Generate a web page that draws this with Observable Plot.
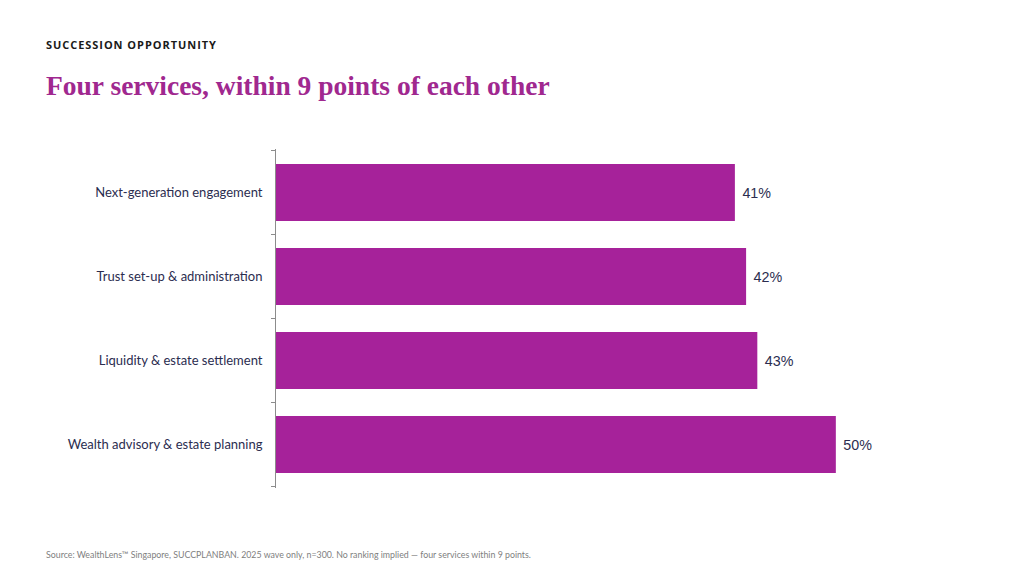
<!DOCTYPE html>
<html>
<head>
<meta charset="utf-8">
<script src="https://cdn.jsdelivr.net/npm/d3@7"></script>
<script src="https://cdn.jsdelivr.net/npm/@observablehq/plot@0.6"></script>
<style>
  html, body { margin: 0; padding: 0; background: #fff; }
  #page { position: relative; width: 1024px; height: 576px; overflow: hidden; }
  #kicker { position: absolute; left: 46px; top: 37px; font: 700 11px "Open Sans", sans-serif; letter-spacing: 0.95px; color: #1a1a1a; }
  #title { position: absolute; left: 46px; top: 70px; font: 700 27.5px "Liberation Serif", serif; color: #a0288f; white-space: nowrap; }
  #chart { position: absolute; left: 0; top: 130px; }
  #caption { position: absolute; left: 46px; top: 549px; font: 400 8.8px "Lato", sans-serif; color: #808080; white-space: nowrap; }
</style>
</head>
<body>
<div id="page">
  <div id="kicker">SUCCESSION OPPORTUNITY</div>
  <div id="title">Four services, within 9 points of each other</div>
  <div id="chart"></div>
  <div id="caption">Source: WealthLens™ Singapore, SUCCPLANBAN. 2025 wave only, n=300. No ranking implied — four services within 9 points.</div>
</div>
<script>
const categories = [
  "Next-generation engagement",
  "Trust set-up & administration",
  "Liquidity & estate settlement",
  "Wealth advisory & estate planning"
];
const values = [41, 42, 43, 50];
const valueLabels = ["41%", "42%", "43%", "50%"];

const data = categories.map((c, i) => ({category: c, value: values[i], label: valueLabels[i]}));

const boundaryTicks = (index, scales, vals, dims) => {
  const y = scales.y;
  const x0 = scales.x(0);
  const step = y.step ? y.step() : (dims.height - dims.marginTop - dims.marginBottom) / categories.length;
  const bw = y.bandwidth ? y.bandwidth() : step * 0.68;
  const g = document.createElementNS("http://www.w3.org/2000/svg", "g");
  const tops = categories.map(c => y(c) + bw / 2 - step / 2);
  tops.push(y(categories[categories.length - 1]) + bw / 2 + step / 2);
  for (const t of tops) {
    const l = document.createElementNS("http://www.w3.org/2000/svg", "line");
    l.setAttribute("x1", x0 - 4); l.setAttribute("x2", x0);
    l.setAttribute("y1", t); l.setAttribute("y2", t);
    l.setAttribute("stroke", "#8c8c8c"); l.setAttribute("stroke-width", 1);
    g.appendChild(l);
  }
  return g;
};

const chart = Plot.plot({
  width: 1024,
  height: 380,
  marginLeft: 275,
  marginRight: 76,
  marginTop: 19,
  marginBottom: 22,
  x: {domain: [0, 60], axis: null},
  y: {domain: categories, paddingInner: 0.316, paddingOuter: 0.158, label: null},
  style: {background: "transparent"},
  marks: [
    Plot.barX(data, {x: "value", y: "category", fill: "#a6229a"}),
    Plot.text(data, {x: "value", y: "category", text: "label", textAnchor: "start", dx: 7,
      fill: "#2b2d4f", fontSize: 14.3, fontFamily: "Liberation Sans, Arial, sans-serif"}),
    Plot.ruleX([0], {stroke: "#8c8c8c", strokeWidth: 1}),
    boundaryTicks,
    Plot.axisY({tickSize: 0, tickPadding: 13, fontSize: 13, fontFamily: "Lato, sans-serif", color: "#2b2d4f", label: null})
  ]
});
chart.style.fontFamily = "Lato, sans-serif";
document.getElementById("chart").appendChild(chart);
</script>
</body>
</html>
